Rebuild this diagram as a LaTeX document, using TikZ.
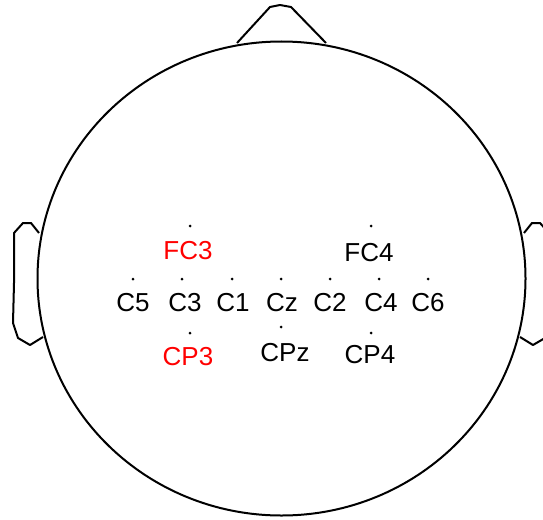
\documentclass[tikz,border=0pt]{standalone}
\usepackage{fontspec}
\setmainfont{Liberation Sans}
\begin{document}
\begin{tikzpicture}[x=1pt,y=-1pt,
  outline/.style={line width=2pt, line join=round},
  electrode/.style={circle, fill=black, inner sep=0pt, minimum size=3pt},
  elabel/.style={font=\fontsize{26}{30}\selectfont, inner sep=0pt, text=black},
  hilite/.style={text=red}]
\useasboundingbox (0,0) rectangle (543,519);
% head
\draw[outline] (281.5,278.5) ellipse [x radius=244, y radius=237];
% nose
\draw[outline] (237,43) -- (270,7) -- (280,5) -- (291,7) -- (326,43);
% left ear
\draw[outline] (39,233) -- (31,223) -- (23,223) -- (14,233) -- (14,283) -- (13,323) -- (18,338) -- (30,345) -- (43,337);
% right ear
\draw[outline] (524,233) -- (532,223) -- (540,223) -- (549,233) -- (549,283) -- (550,323) -- (545,338) -- (533,345) -- (520,337);
% electrodes
\node[electrode] (dFCiii) at (190,226) {};
\node[electrode] (dFCiv) at (371,226) {};
\node[electrode] (dCv) at (133,279) {};
\node[electrode] (dCiii) at (182,279) {};
\node[electrode] (dCi) at (232,279) {};
\node[electrode] (dCz) at (281,279) {};
\node[electrode] (dCii) at (330,279) {};
\node[electrode] (dCiv) at (379,279) {};
\node[electrode] (dCvi) at (428,279) {};
\node[electrode] (dCPz) at (281,327) {};
\node[electrode] (dCPiii) at (190,333) {};
\node[electrode] (dCPiv) at (371,333) {};
% labels
\node[elabel,hilite] (lFCiii) at (188,251) {FC3};
\node[elabel] (lFCiv) at (369,253) {FC4};
\node[elabel] (lCv) at (133,303) {C5};
\node[elabel] (lCiii) at (185,303) {C3};
\node[elabel] (lCi) at (233,303) {C1};
\node[elabel] (lCz) at (282,303) {Cz};
\node[elabel] (lCii) at (330,303) {C2};
\node[elabel] (lCiv) at (381,303) {C4};
\node[elabel] (lCvi) at (428,303) {C6};
\node[elabel] (lCPz) at (285,353) {CPz};
\node[elabel,hilite] (lCPiii) at (188,357) {CP3};
\node[elabel] (lCPiv) at (370,355) {CP4};
\end{tikzpicture}
\end{document}
